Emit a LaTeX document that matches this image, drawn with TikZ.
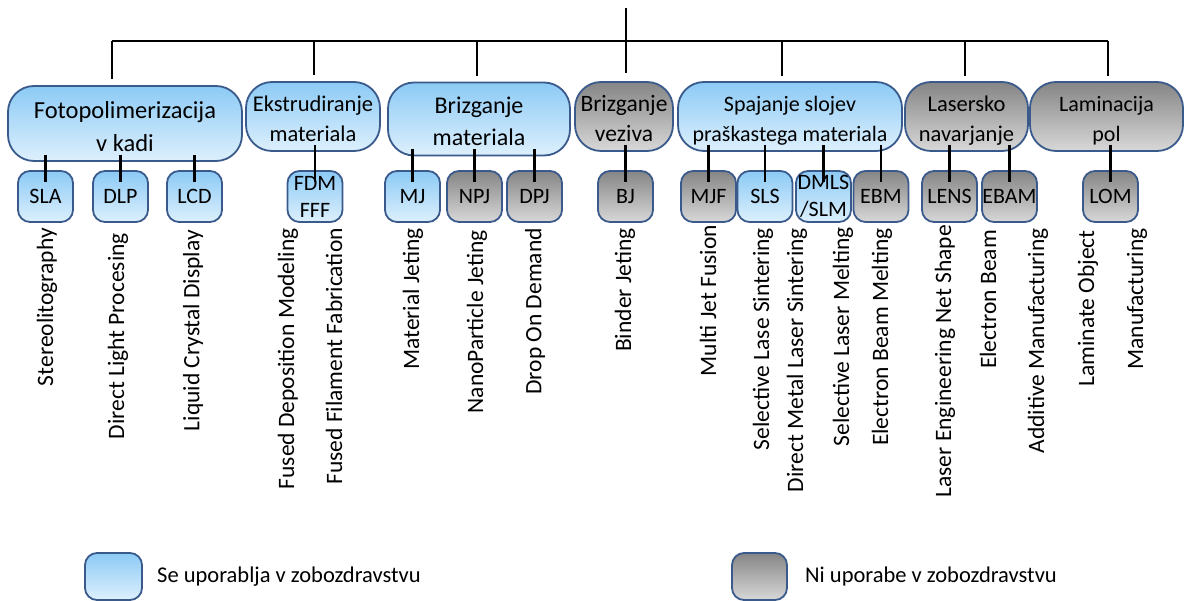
\documentclass[tikz,border=0pt]{standalone}
\usepackage{fontspec}
\setmainfont{Carlito}
\definecolor{bord}{HTML}{3A5A8C}
\definecolor{blueTop}{HTML}{8CCAF5}
\definecolor{blueBot}{HTML}{DDF0FD}
\definecolor{grayTop}{HTML}{858585}
\definecolor{grayBot}{HTML}{D8D8D8}
\newcommand{\ptxt}[1]{\raisebox{0pt}[\dimexpr\height+9pt\relax][\depth]{\begin{tabular}{@{}c@{}}#1\end{tabular}}}
\newcommand{\pfs}[1]{\fontsize{#1}{30}\selectfont}
\begin{document}
\begin{tikzpicture}[x=1pt,y=-1pt,
  conn/.style={line width=2.1pt, black},
  bluebox/.style={draw=bord, line width=1.8pt, top color=blueTop, bottom color=blueBot, align=center, inner sep=0pt},
  graybox/.style={draw=bord, line width=1.8pt, top color=grayTop, bottom color=grayBot, align=center, inner sep=0pt},
  parent/.style={rounded corners=26pt},
  child/.style={rounded corners=12pt, minimum width=55pt, minimum height=51pt, font=\fontsize{22}{27}\selectfont},
  vlab/.style={rotate=90, anchor=east, inner sep=0pt, font=\fontsize{23.5}{26}\selectfont},
  legtext/.style={anchor=west, inner sep=0pt, font=\fontsize{22.5}{26}\selectfont}]
\fill[white] (0,0) rectangle (1184,601);
\useasboundingbox (0,0) rectangle (1184,601);

% parents
\node[bluebox,parent,minimum width=234pt,minimum height=69pt,font=\fontsize{24.5}{33}\selectfont] (foto) at (125,123.5) {\ptxt{Fotopolimerizacija\\v kadi}};
\node[bluebox,parent,minimum width=134pt,minimum height=59pt,font=\pfs{22.5}] (ekstr) at (313,116.5) {\ptxt{Ekstrudiranje\\materiala}};
\node[bluebox,parent,minimum width=182pt,minimum height=58pt,font=\fontsize{24}{32}\selectfont] (brizm) at (479,119) {\ptxt{Brizganje\\materiala}};
\node[graybox,parent,minimum width=98pt,minimum height=59pt,font=\pfs{23.5}] (brizv) at (624,116.5) {\ptxt{Brizganje\\veziva}};
\node[bluebox,parent,minimum width=224pt,minimum height=59pt,font=\pfs{22}] (spaj) at (790,116.5) {\ptxt{Spajanje slojev\\praškastega materiala}};
\node[graybox,parent,minimum width=123pt,minimum height=59pt,font=\pfs{22.5}] (laser) at (966.5,116.5) {\ptxt{Lasersko\\navarjanje}};
\node[graybox,parent,minimum width=153pt,minimum height=59pt,font=\pfs{22}] (lamin) at (1106.5,116.5) {\ptxt{Laminacija\\pol}};

% children
\node[bluebox,child] (sla) at (45.5,196.5) {SLA};
\node[bluebox,child] (dlp) at (120.5,196.5) {DLP};
\node[bluebox,child] (lcd) at (194.5,196.5) {LCD};
\node[bluebox,child] (fdm) at (315,196.5) {FDM\\FFF};
\node[bluebox,child] (mj) at (412.5,196.5) {MJ};
\node[graybox,child] (npj) at (474.5,196.5) {NPJ};
\node[graybox,child] (dpj) at (534.5,196.5) {DPJ};
\node[graybox,child] (bj) at (625.5,196.5) {BJ};
\node[graybox,child] (mjf) at (708.5,196.5) {MJF};
\node[bluebox,child] (sls) at (765,196.5) {SLS};
\node[bluebox,child] (dmls) at (823.5,196.5) {DMLS\\/SLM};
\node[graybox,child] (ebm) at (881,196.5) {EBM};
\node[graybox,child] (lens) at (949.5,196.5) {LENS};
\node[graybox,child] (ebam) at (1009.5,196.5) {EBAM};
\node[graybox,child] (lom) at (1110.5,196.5) {LOM};

% top tree
\coordinate (root) at (626,8);
\coordinate (bus) at (626,41);
\coordinate (bl) at (112,41);
\coordinate (br) at (1108,41);
\coordinate (d1) at (112,41);
\coordinate (d2) at (314,41);
\coordinate (d3) at (477,41);
\coordinate (d4) at (626,41);
\coordinate (d5) at (782,41);
\coordinate (d6) at (965,41);
\coordinate (d7) at (1108,41);
\draw[conn] (root) -- (bus);
\draw[conn] (bl) -- (br);
\draw[conn] (d1) -- ([yshift=6pt]d1 |- foto.north);
\draw[conn] (d2) -- ([yshift=6pt]d2 |- ekstr.north);
\draw[conn] (d3) -- ([yshift=6pt]d3 |- brizm.north);
\draw[conn] (d4) -- ([yshift=8pt]d4 |- brizv.north);
\draw[conn] (d5) -- ([yshift=5pt]d5 |- spaj.north);
\draw[conn] (d6) -- ([yshift=5pt]d6 |- laser.north);
\draw[conn] (d7) -- ([yshift=5pt]d7 |- lamin.north);

% parent-child connectors
\foreach \c/\p in {sla/foto,dlp/foto,lcd/foto,fdm/ekstr,mj/brizm,npj/brizm,dpj/brizm,bj/brizv,mjf/spaj,sls/spaj,dmls/spaj,ebm/spaj,lens/laser,ebam/laser,lom/lamin}
  \draw[conn] ([yshift=7pt]\c.north |- \p.south) -- ([yshift=-12pt]\c.north);

% vertical labels
\node[vlab] (l1) at (47,228) {Stereolitography};
\node[vlab] (l2) at (118,233) {Direct Light Procesing};
\node[vlab] (l3) at (193,230) {Liquid Crystal Display};
\node[vlab] (l4) at (288,228) {Fused Deposition Modeling};
\node[vlab] (l5) at (334,228) {Fused Filament Fabrication};
\node[vlab] (l6) at (413,228) {Material Jeting};
\node[vlab] (l7) at (477,230) {NanoParticle Jeting};
\node[vlab] (l8) at (535,228) {Drop On Demand};
\node[vlab] (l9) at (625,228) {Binder Jeting};
\node[vlab] (l10) at (708,225) {Multi Jet Fusion};
\node[vlab] (l11) at (763,228) {Selective Lase Sintering};
\node[vlab] (l12) at (797,228) {Direct Metal Laser Sintering};
\node[vlab] (l13) at (843,227) {Selective Laser Melting};
\node[vlab] (l14) at (882,228) {Electron Beam Melting};
\node[vlab] (l15) at (945,225) {Laser Engineering Net Shape};
\node[vlab] (l16) at (988,230) {Electron Beam};
\node[vlab] (l17) at (1038,228) {Additive Manufacturing};
\node[vlab] (l18) at (1088,230) {Laminate Object};
\node[vlab] (l19) at (1137,228) {Manufacturing};

% legend
\node[bluebox,rounded corners=12pt,minimum width=57pt,minimum height=47pt] (legb) at (113.5,576.5) {};
\node[legtext] (legbt) at (157,577) {Se uporablja v zobozdravstvu};
\node[graybox,rounded corners=12pt,minimum width=55pt,minimum height=47pt] (legg) at (759.5,576.5) {};
\node[legtext] (leggt) at (805,577) {Ni uporabe v zobozdravstvu};
\end{tikzpicture}
\end{document}
